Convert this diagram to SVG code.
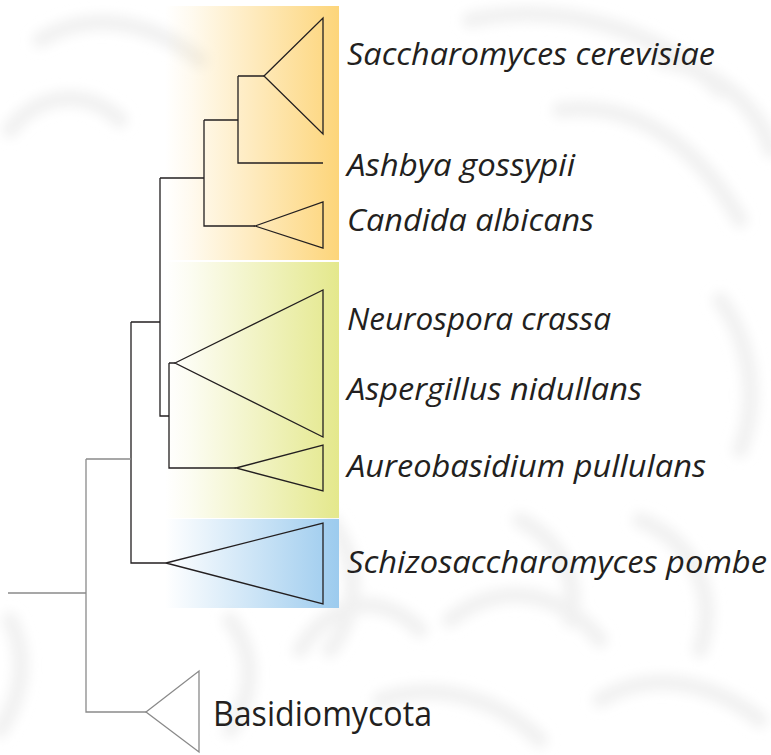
<svg xmlns="http://www.w3.org/2000/svg" width="771" height="755" viewBox="0 0 771 755">
  <defs>
    <linearGradient id="gOrange" x1="0" y1="0" x2="1" y2="0">
      <stop offset="0" stop-color="#fdd57a" stop-opacity="0"/>
      <stop offset="0.15" stop-color="#fdd57a" stop-opacity="0.12"/>
      <stop offset="1" stop-color="#fdd57a" stop-opacity="1"/>
    </linearGradient>
    <linearGradient id="gYellow" x1="0" y1="0" x2="1" y2="0">
      <stop offset="0" stop-color="#e4e88c" stop-opacity="0"/>
      <stop offset="0.15" stop-color="#e4e88c" stop-opacity="0.12"/>
      <stop offset="1" stop-color="#e4e88c" stop-opacity="1"/>
    </linearGradient>
    <linearGradient id="gBlue" x1="0" y1="0" x2="1" y2="0">
      <stop offset="0" stop-color="#9ccbee" stop-opacity="0"/>
      <stop offset="0.15" stop-color="#9ccbee" stop-opacity="0.15"/>
      <stop offset="1" stop-color="#9ccbee" stop-opacity="1"/>
    </linearGradient>
    <filter id="blur" x="-10%" y="-10%" width="120%" height="120%">
      <feGaussianBlur stdDeviation="6"/>
    </filter>
  </defs>
  <style>
    .br { fill: none; stroke: #231f20; stroke-width: 1.3; }
    .gr { fill: none; stroke: #8a8a8a; stroke-width: 1.3; }
    .lab { font-family: "Open Sans", "Liberation Sans", sans-serif; font-style: italic; font-size: 30.5px; fill: #231f20; }
    .lab2 { font-family: "Open Sans", "Liberation Sans", sans-serif; font-size: 34px; fill: #231f20; }
    .bg { fill: none; stroke: #f1f1f1; stroke-width: 16; stroke-linecap: round; }
  </style>

  <rect x="0" y="0" width="771" height="755" fill="#ffffff"/>

  <!-- faint background pattern -->
  <g id="background" filter="url(#blur)">
    <path class="bg" d="M40,40 C90,10 150,20 200,60"/>
    <path class="bg" d="M10,130 C40,90 90,90 120,120"/>
    <path class="bg" d="M470,20 C560,0 660,30 720,90"/>
    <path class="bg" d="M560,110 C640,100 700,150 740,220"/>
    <path class="bg" d="M660,60 C720,70 760,110 771,150"/>
    <path class="bg" d="M300,650 C330,600 380,590 420,630"/>
    <path class="bg" d="M330,520 C360,560 360,610 330,650"/>
    <path class="bg" d="M450,620 C500,580 560,590 600,640"/>
    <path class="bg" d="M520,520 C560,540 580,580 570,620"/>
    <path class="bg" d="M640,520 C690,540 720,590 700,650"/>
    <path class="bg" d="M720,300 C750,340 760,400 740,450"/>
    <path class="bg" d="M380,700 C440,680 500,700 540,740"/>
    <path class="bg" d="M600,700 C650,670 710,680 760,720"/>
    <path class="bg" d="M10,620 C30,660 20,700 0,730"/>
    <path class="bg" d="M230,620 C260,660 250,700 230,730"/>
  </g>

  <!-- clade shading -->
  <g id="shading">
    <rect x="165" y="6" width="174" height="254" fill="url(#gOrange)"/>
    <rect x="165" y="262" width="174" height="256" fill="url(#gYellow)"/>
    <rect x="165" y="519" width="174" height="89" fill="url(#gBlue)"/>
  </g>

  <!-- connectors -->
  <g id="connectors">
    <path class="br" d="M238,76 H264 M238,76 V163 H323"/>
    <path class="br" d="M204,120 H238 M204,120 V226 H255"/>
    <path class="br" d="M160,178 H204 M160,178 V416 H169"/>
    <path class="br" d="M169,363 H175 M169,363 V468 H236"/>
    <path class="br" d="M131,322 H160 M131,322 V563 H166"/>
    <path class="gr" d="M86,459 H131 M86,459 V712 H146 M8,593 H86"/>
  </g>

  <g id="saccharomyces">
    <polygon class="br" points="264,76 323,18 323,134"/>
    <text class="lab" x="347" y="65" textLength="368" lengthAdjust="spacingAndGlyphs">Saccharomyces cerevisiae</text>
  </g>
  <g id="ashbya">
    <text class="lab" x="347" y="176" textLength="228" lengthAdjust="spacingAndGlyphs">Ashbya gossypii</text>
  </g>
  <g id="candida">
    <polygon class="br" points="255,226 323,202 323,248"/>
    <text class="lab" x="347" y="231" textLength="247" lengthAdjust="spacingAndGlyphs">Candida albicans</text>
  </g>
  <g id="neurospora-aspergillus">
    <polygon class="br" points="175,363 323,290 323,437"/>
    <text class="lab" x="347" y="330" textLength="264" lengthAdjust="spacingAndGlyphs">Neurospora crassa</text>
    <text class="lab" x="347" y="400" textLength="295" lengthAdjust="spacingAndGlyphs">Aspergillus nidullans</text>
  </g>
  <g id="aureobasidium">
    <polygon class="br" points="236,468 323,445 323,491"/>
    <text class="lab" x="347" y="477" textLength="359" lengthAdjust="spacingAndGlyphs">Aureobasidium pullulans</text>
  </g>
  <g id="schizosaccharomyces">
    <polygon class="br" points="166,563 323,523 323,604"/>
    <text class="lab" x="347" y="573" textLength="420" lengthAdjust="spacingAndGlyphs">Schizosaccharomyces pombe</text>
  </g>
  <g id="basidiomycota">
    <polygon class="gr" points="146,712 199,671 199,752"/>
    <text class="lab2" x="213" y="726" textLength="219" lengthAdjust="spacingAndGlyphs">Basidiomycota</text>
  </g>
</svg>
